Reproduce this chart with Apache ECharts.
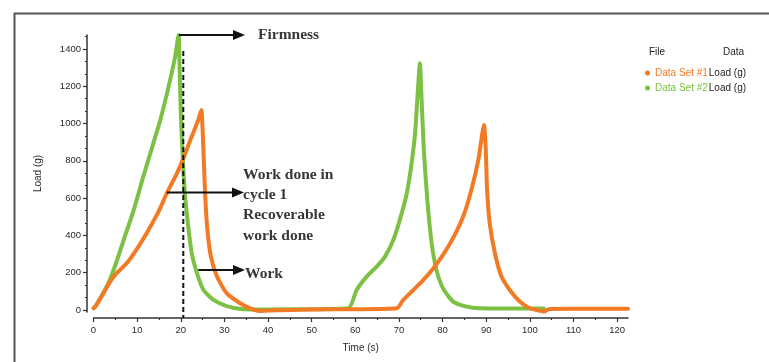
<!DOCTYPE html>
<html>
<head>
<meta charset="utf-8">
<script src="https://cdn.jsdelivr.net/npm/echarts@6/dist/echarts.min.js"></script>
<style>
html, body { margin: 0; padding: 0; background: #fff; }
#chart { width: 769px; height: 362px; }
</style>
</head>
<body>
<div id="chart"></div>
<script>
// Data Set #1 (orange) - time (s) and load (g)
const set1Time = [0, 0.4, 2.3, 3.8, 5.4, 7.6, 10.3, 12.6, 14.9, 16.8, 19.1, 20.6, 22.5, 24.0, 24.7, 25.0, 25.3, 25.6, 26.1, 26.9, 28.3, 30.5, 33.6, 35.9, 38, 40, 50, 60, 69.5, 71.0, 73.3, 75.6, 77.9, 80.1, 82.4, 84.7, 86.6, 88.2, 89.5, 89.9, 90.2, 90.8, 92.0, 93.5, 95.4, 97.7, 100, 102.3, 103.2, 104.5, 110, 122.5]
const set1Load = [10, 18, 90, 152, 200, 250, 340, 429, 527, 626, 733, 814, 930, 1019, 1073, 966, 787, 608, 429, 286, 179, 90, 36, 9, -5, -3, 3, 4, 9, 54, 107, 161, 224, 295, 385, 500, 644, 805, 992, 858, 644, 465, 304, 179, 107, 45, 9, -4, -9, 5, 6, 6]

// Data Set #2 (green)
const set2Time = [0, 0.4, 2.3, 3.8, 5.4, 6.9, 9.2, 11.4, 13.7, 15.3, 17.2, 18.7, 19.5, 19.7, 20.0, 20.5, 21.0, 21.8, 22.5, 23.7, 25.2, 27.5, 30.5, 34.3, 40, 50, 58.4, 60.3, 62.6, 64.9, 66.8, 68.7, 70.2, 71.8, 72.9, 73.7, 74.2, 74.8, 75.2, 75.7, 76.5, 77.5, 78.6, 80.1, 82.4, 85.5, 88.5, 95, 103.2]
const set2Load = [10, 18, 95, 165, 268, 375, 536, 715, 894, 1019, 1198, 1359, 1475, 1323, 1055, 787, 608, 429, 304, 197, 107, 54, 21, 4, 3, 4, 9, 107, 179, 232, 286, 375, 483, 626, 787, 948, 1126, 1323, 1126, 858, 590, 358, 215, 116, 45, 18, 9, 8, 8]

const seriesNames = ['Data Set #1', 'Data Set #2']
const xTicks = [0, 10, 20, 30, 40, 50, 60, 70, 80, 90, 100, 110, 120]
const xMinorTicks = [5, 15, 25, 35, 45, 55, 65, 75, 85, 95, 105, 115]
const yTicks = [0, 200, 400, 600, 800, 1000, 1200, 1400]
const yMinorTicks = [66.7, 133.3, 266.7, 333.3, 466.7, 533.3, 666.7, 733.3, 866.7, 933.3, 1066.7, 1133.3, 1266.7, 1333.3, 1466.7]

const orange = '#f37a25'
const green = '#7cc144'
const ink = '#2a2a2a'
const sans = 'Liberation Sans'
const serif = 'Liberation Serif'

const zip = (xs, ys) => xs.map((x, i) => [x, ys[i]])

const arrow = (x1, x2, y) => [
  { type: 'line', z: 100, shape: { x1: x1, y1: y, x2: x2 - 8, y2: y }, style: { stroke: '#111', lineWidth: 2 } },
  { type: 'polygon', z: 100, shape: { points: [[x2 - 12, y - 5], [x2, y], [x2 - 12, y + 5]] }, style: { fill: '#111' } }
]

const note = (text, x, y) => ({
  type: 'text', z: 100, x: x, y: y,
  style: { text: text, font: 'bold 15.5px "' + serif + '"', fill: '#383838', verticalAlign: 'middle' }
})

const chart = echarts.init(document.getElementById('chart'))

const option = {
  backgroundColor: '#fff',
  animation: false,
  grid: [
    { left: 87, right: 141, top: 35, bottom: 50, outerBoundsMode: 'none' },
    { left: 93.5, right: 141, top: 300, bottom: 44, outerBoundsMode: 'none' }
  ],
  xAxis: [
    { type: 'value', gridIndex: 0, min: -1.5, max: 122.5, show: false },
    {
      type: 'value', gridIndex: 1, min: 0, max: 122.5, position: 'bottom',
      name: 'Time (s)', nameLocation: 'middle', nameGap: 25,
      nameTextStyle: { fontFamily: sans, fontSize: 10, color: ink },
      axisLine: { onZero: false, lineStyle: { color: '#333', width: 1.5 } },
      axisTick: { customValues: xTicks, length: 4, lineStyle: { color: '#333', width: 1.2 } },
      axisLabel: { customValues: xTicks, margin: 7, fontFamily: sans, fontSize: 9.5, color: ink },
      splitLine: { show: false }
    },
    {
      type: 'value', gridIndex: 1, min: 0, max: 122.5, position: 'bottom', offset: 0,
      axisLine: { show: false, onZero: false },
      axisTick: { customValues: xMinorTicks, length: 2, lineStyle: { color: '#333', width: 1.2 } },
      axisLabel: { show: false },
      splitLine: { show: false }
    }
  ],
  yAxis: [
    {
      type: 'value', gridIndex: 0, min: -11, max: 1475, position: 'left',
      name: 'Load (g)', nameLocation: 'middle', nameGap: 44,
      nameTextStyle: { fontFamily: sans, fontSize: 10, color: ink },
      axisLine: { show: true, onZero: false, lineStyle: { color: '#333', width: 1.5 } },
      axisTick: { show: true, customValues: yTicks, length: 4, lineStyle: { color: '#333', width: 1.2 } },
      axisLabel: { customValues: yTicks, margin: 6, fontFamily: sans, fontSize: 9.5, color: ink, formatter: v => String(v) },
      splitLine: { show: false }
    },
    {
      type: 'value', gridIndex: 0, min: -11, max: 1475, position: 'left', offset: 0,
      axisLine: { show: false, onZero: false },
      axisTick: { show: true, customValues: yMinorTicks, length: 2, lineStyle: { color: '#333', width: 1.2 } },
      axisLabel: { show: false },
      splitLine: { show: false }
    },
    { type: 'value', gridIndex: 1, show: false }
  ],
  legend: {
    orient: 'vertical', left: 640, top: 62,
    icon: 'circle', itemWidth: 5, itemHeight: 5, itemGap: 3,
    data: seriesNames,
    textStyle: {
      fontFamily: sans, fontSize: 10, lineHeight: 12,
      rich: {
        o: { color: orange, fontFamily: sans, fontSize: 10 },
        g: { color: green, fontFamily: sans, fontSize: 10 },
        k: { color: '#222', fontFamily: sans, fontSize: 10, padding: [0, 0, 0, 1] }
      }
    },
    formatter: name => (name === seriesNames[0] ? '{o|' : '{g|') + name + '}{k|Load (g)}'
  },
  series: [
    {
      name: seriesNames[1], type: 'line', xAxisIndex: 0, yAxisIndex: 0,
      data: zip(set2Time, set2Load), showSymbol: false, z: 2,
      smooth: 0.2,
      itemStyle: { color: green },
      lineStyle: { color: green, width: 4, cap: 'round', join: 'round' }
    },
    {
      name: seriesNames[0], type: 'line', xAxisIndex: 0, yAxisIndex: 0,
      data: zip(set1Time, set1Load), showSymbol: false, z: 3,
      smooth: 0.2,
      itemStyle: { color: orange },
      lineStyle: { color: orange, width: 4, cap: 'round', join: 'round' }
    }
  ],
  graphic: [
    { type: 'polyline', z: 100, shape: { points: [[14.5, 362], [14.5, 13.5], [769, 13.5]] }, style: { stroke: '#555', lineWidth: 2, fill: null } },
    { type: 'line', z: 100, shape: { x1: 183.3, y1: 51, x2: 183.3, y2: 318 }, style: { stroke: '#111', lineWidth: 2, lineDash: [5, 3] } },
    ...arrow(179, 245, 35),
    ...arrow(166.7, 244, 192.5),
    ...arrow(198.3, 245, 270),
    note('Firmness', 258, 35),
    note('Work done in', 243, 175),
    note('cycle 1', 243, 194.5),
    note('Recoverable', 243, 215),
    note('work done', 243, 236),
    note('Work', 245, 274),
    { type: 'text', z: 100, x: 649, y: 52, style: { text: 'File', font: '10px "' + sans + '"', fill: '#222', verticalAlign: 'middle' } },
    { type: 'text', z: 100, x: 723, y: 52, style: { text: 'Data', font: '10px "' + sans + '"', fill: '#222', verticalAlign: 'middle' } }
  ]
}

chart.setOption(option)
</script>
</body>
</html>
